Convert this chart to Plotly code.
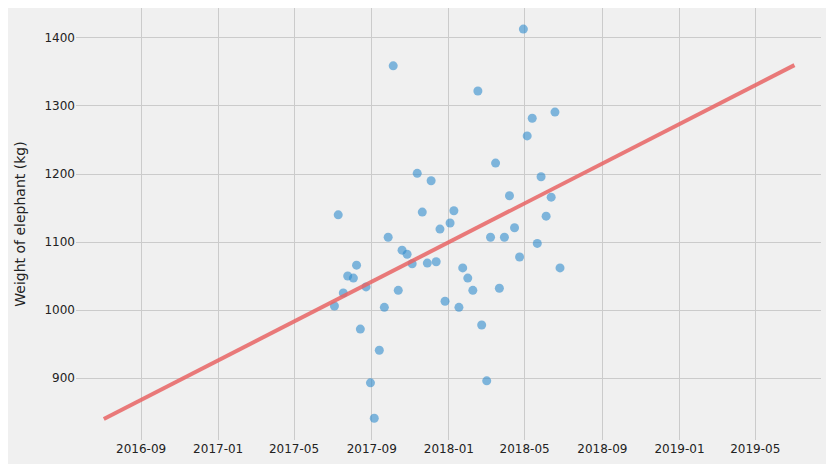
import plotly.graph_objects as go

dates = ["2017-07-04","2017-07-10","2017-07-18","2017-07-25","2017-08-03","2017-08-08","2017-08-14","2017-08-23","2017-08-30","2017-09-05",
"2017-09-13","2017-09-21","2017-09-27","2017-10-05","2017-10-13","2017-10-19","2017-10-27","2017-11-04","2017-11-12","2017-11-20",
"2017-11-28","2017-12-04","2017-12-12","2017-12-18","2017-12-26","2018-01-03","2018-01-09","2018-01-17","2018-01-23","2018-01-31",
"2018-02-08","2018-02-16","2018-02-22","2018-03-02","2018-03-08","2018-03-16","2018-03-22","2018-03-30","2018-04-07","2018-04-15",
"2018-04-23","2018-04-29","2018-05-05","2018-05-13","2018-05-21","2018-05-27","2018-06-04","2018-06-12","2018-06-18","2018-06-26"]
weights = [1006,1140,1025,1050,1047,1066,972,1034,893,841,
941,1004,1107,1359,1029,1088,1082,1068,1201,1144,
1069,1190,1071,1119,1013,1128,1146,1004,1062,1047,
1029,1322,978,896,1107,1216,1032,1107,1168,1121,
1078,1413,1256,1282,1098,1196,1138,1166,1291,1062]
trend_dates = ["2016-07-04","2019-07-02"]
trend_values = [840,1360]

fig = go.Figure()
fig.add_trace(go.Scatter(x=dates, y=weights, mode="markers",
    marker=dict(size=9, color="rgba(48,140,205,0.6)", line=dict(width=0))))
fig.add_trace(go.Scatter(x=trend_dates, y=trend_values, mode="lines",
    line=dict(color="rgba(232,100,100,0.85)", width=4)))
fig.update_layout(width=834, height=464, showlegend=False,
    paper_bgcolor="#f0f0f0", plot_bgcolor="#f0f0f0",
    margin=dict(l=68, r=21, t=0, b=32),
    font=dict(family="DejaVu Sans", size=12, color="#222"))
fig.update_xaxes(range=["2016-05-21","2019-08-13"], tick0="2016-09-01", dtick="M4",
    tickformat="%Y-%m", showgrid=True, gridcolor="#cbcbcb", gridwidth=1, zeroline=False, showline=False)
fig.update_yaxes(range=[809,1444], tickvals=[900,1000,1100,1200,1300,1400],
    title=dict(text="Weight of elephant (kg)", font=dict(size=14)),
    showgrid=True, gridcolor="#cbcbcb", gridwidth=1, zeroline=False, showline=False)
fig.write_html("out.html")
